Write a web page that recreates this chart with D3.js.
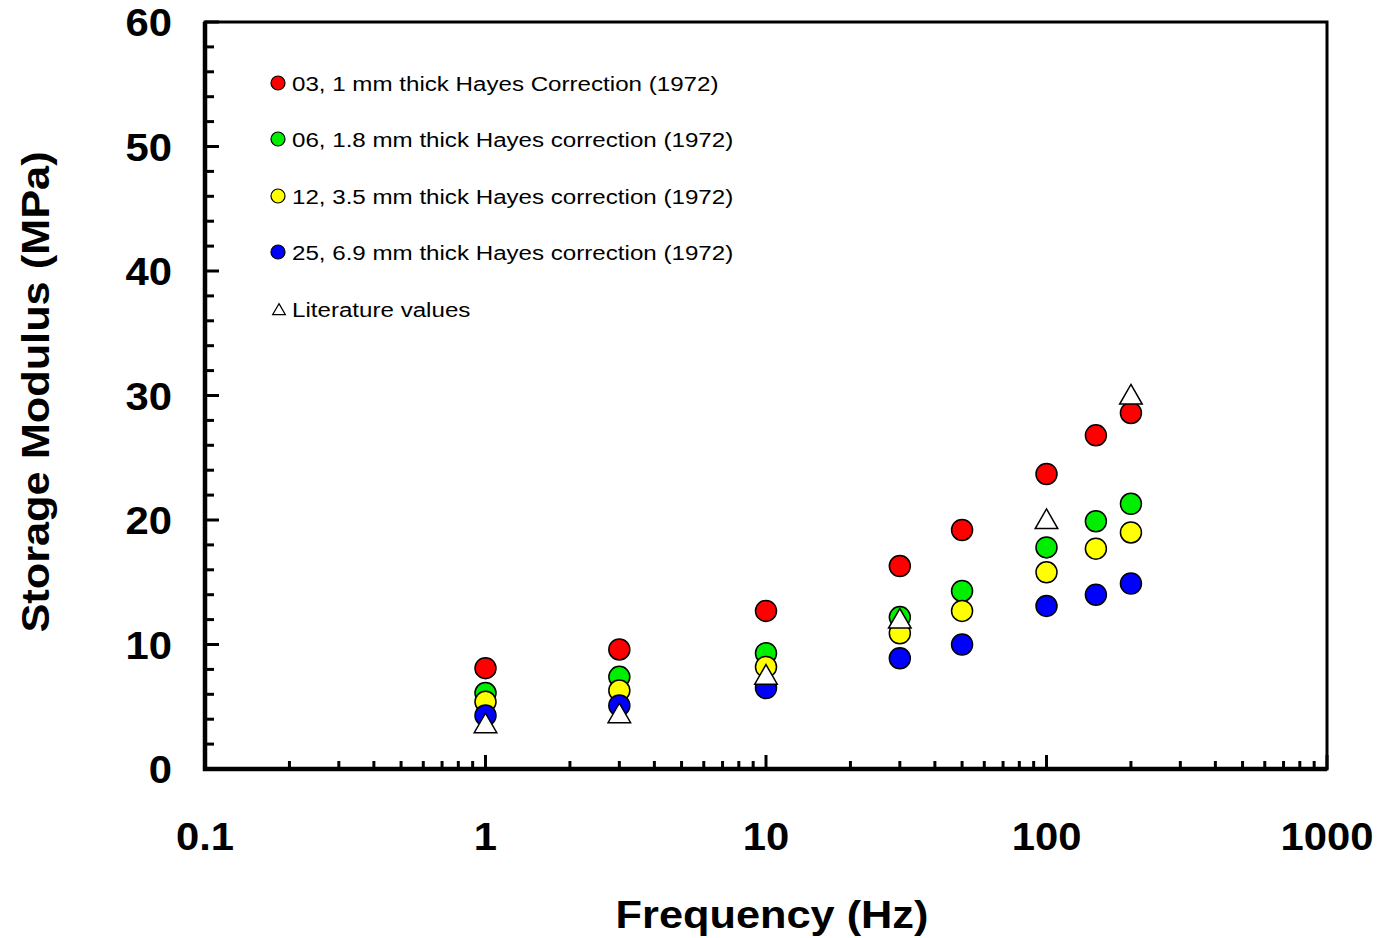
<!DOCTYPE html>
<html>
<head>
<meta charset="utf-8">
<script src="https://cdn.jsdelivr.net/npm/d3@7"></script>
<style>
  body { margin: 0; background: #fff; }
  text { font-family: "Liberation Sans", Arial, sans-serif; }
</style>
</head>
<body>
<div id="chart"></div>
<script>
// data
var freq = [1, 3, 10, 30, 50, 100, 150, 200];
var t03 = [8.1, 9.6, 12.7, 16.3, 19.2, 23.7, 26.8, 28.6];
var t06 = [6.1, 7.4, 9.3, 12.2, 14.3, 17.8, 19.9, 21.3];
var t12 = [5.4, 6.3, 8.2, 10.9, 12.7, 15.8, 17.7, 19.0];
var t25 = [4.3, 5.1, 6.5, 8.9, 10.0, 13.1, 14.0, 14.9];
var litFreq = [1, 3, 10, 30, 100, 200];
var litValues = [3.6, 4.4, 7.5, 12.0, 20.0, 30.0];

var seriesNames = [
    "03, 1 mm thick Hayes Correction (1972)",
    "06, 1.8 mm thick Hayes correction (1972)",
    "12, 3.5 mm thick Hayes correction (1972)",
    "25, 6.9 mm thick Hayes correction (1972)"
];
var seriesColors = ["#ff0000", "#00ee00", "#ffff00", "#0000ff"];
var seriesValues = [t03, t06, t12, t25];
var xTicks = [0.1, 1, 10, 100, 1000];
var yTicks = [0, 10, 20, 30, 40, 50, 60];

var width = 1378, height = 938;
var margin = {top: 22, right: 51, bottom: 169, left: 205};
var stretch = 1.14; // the original text is drawn a bit wide

var svg = d3.select("#chart").append("svg")
    .attr("width", width)
    .attr("height", height);

var x = d3.scaleLog()
    .domain([0.1, 1000])
    .range([margin.left, width - margin.right]);

var y = d3.scaleLinear()
    .domain([0, 60])
    .range([height - margin.bottom, margin.top]);

// minor ticks
var xMinor = [];
[0.1, 1, 10, 100].forEach(function(d) {
    for (var k = 2; k <= 9; k++) xMinor.push(d * k);
});
var yMinor = d3.range(0, 61, 2).filter(function(d) { return d % 10 != 0; });

var x0 = margin.left, y0 = height - margin.bottom;

svg.append("g").selectAll("line")
    .data(xMinor).enter().append("line")
    .attr("x1", function(d) { return x(d); })
    .attr("x2", function(d) { return x(d); })
    .attr("y1", y0).attr("y2", y0 - 8)
    .attr("stroke", "black").attr("stroke-width", 3);

svg.append("g").selectAll("line")
    .data(xTicks).enter().append("line")
    .attr("x1", function(d) { return x(d); })
    .attr("x2", function(d) { return x(d); })
    .attr("y1", y0).attr("y2", y0 - 14)
    .attr("stroke", "black").attr("stroke-width", 3);

svg.append("g").selectAll("line")
    .data(yMinor).enter().append("line")
    .attr("x1", x0).attr("x2", x0 + 9)
    .attr("y1", function(d) { return y(d); })
    .attr("y2", function(d) { return y(d); })
    .attr("stroke", "black").attr("stroke-width", 3);

svg.append("g").selectAll("line")
    .data(yTicks).enter().append("line")
    .attr("x1", x0).attr("x2", x0 + 14)
    .attr("y1", function(d) { return y(d); })
    .attr("y2", function(d) { return y(d); })
    .attr("stroke", "black").attr("stroke-width", 3);

// frame
svg.append("rect")
    .attr("x", x0).attr("y", margin.top)
    .attr("width", width - margin.right - x0)
    .attr("height", y0 - margin.top)
    .attr("fill", "none")
    .attr("stroke", "black")
    .attr("stroke-width", 3);
svg.append("path")
    .attr("d", "M" + x0 + "," + margin.top + "V" + y0 + "H" + (width - margin.right))
    .attr("fill", "none").attr("stroke", "black").attr("stroke-width", 4.5);

// tick labels
svg.append("g").selectAll("text")
    .data(xTicks).enter().append("text")
    .attr("transform", function(d) { return "translate(" + x(d) + ",850) scale(1.1,1)"; })
    .attr("text-anchor", "middle")
    .style("font-size", "38px").style("font-weight", "bold")
    .text(function(d) { return d; });

svg.append("g").selectAll("text")
    .data(yTicks).enter().append("text")
    .attr("transform", function(d) { return "translate(172," + (y(d) + 14) + ") scale(1.1,1)"; })
    .attr("text-anchor", "end")
    .style("font-size", "38px").style("font-weight", "bold")
    .text(function(d) { return d; });

// axis titles
svg.append("text")
    .attr("transform", "translate(772,928) scale(" + stretch + ",1)")
    .attr("text-anchor", "middle")
    .style("font-size", "38px").style("font-weight", "bold")
    .text("Frequency (Hz)");

svg.append("text")
    .attr("transform", "translate(49,392) rotate(-90) scale(" + stretch + ",1)")
    .attr("text-anchor", "middle")
    .style("font-size", "38px").style("font-weight", "bold")
    .text("Storage Modulus (MPa)");

// points
var tri = d3.symbol().type(d3.symbolTriangle).size(220);

seriesValues.forEach(function(vals, i) {
    svg.append("g").selectAll("circle")
        .data(vals).enter().append("circle")
        .attr("cx", function(d, j) { return x(freq[j]); })
        .attr("cy", function(d) { return y(d); })
        .attr("r", 10.5)
        .attr("fill", seriesColors[i])
        .attr("stroke", "black")
        .attr("stroke-width", 1.5);
});

svg.append("g").selectAll("path")
    .data(litValues).enter().append("path")
    .attr("d", tri)
    .attr("transform", function(d, j) {
        return "translate(" + x(litFreq[j]) + "," + (y(d) + 2) + ")";
    })
    .attr("fill", "white")
    .attr("stroke", "black")
    .attr("stroke-width", 1.5);

// legend
var legend = svg.append("g");
var rowY = [83, 139, 196, 252];
seriesNames.forEach(function(name, i) {
    legend.append("circle")
        .attr("cx", 278).attr("cy", rowY[i]).attr("r", 7)
        .attr("fill", seriesColors[i])
        .attr("stroke", "black").attr("stroke-width", 1.2);
    legend.append("text")
        .attr("transform", "translate(292," + (rowY[i] + 8) + ") scale(1.15,1)")
        .style("font-size", "21px")
        .text(name);
});
legend.append("path")
    .attr("d", d3.symbol().type(d3.symbolTriangle).size(70))
    .attr("transform", "translate(279,311)")
    .attr("fill", "white").attr("stroke", "black").attr("stroke-width", 1.2);
legend.append("text")
    .attr("transform", "translate(292,317) scale(1.15,1)")
    .style("font-size", "21px")
    .text("Literature values");
</script>
</body>
</html>
